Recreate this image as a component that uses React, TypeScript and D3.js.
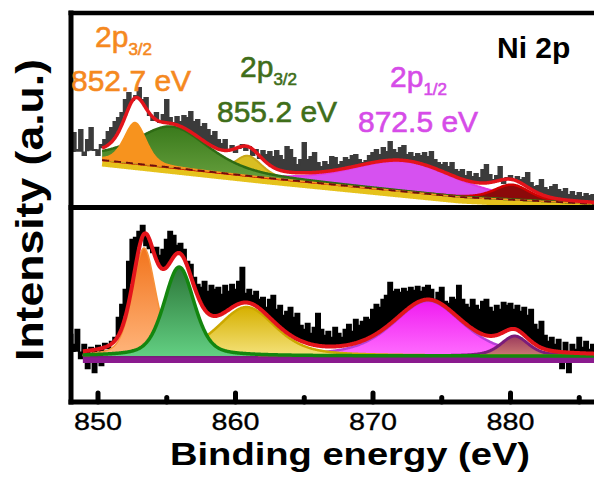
import * as d3 from "d3";

const W = 594;
const H = 487;
const FONT = "'Liberation Sans', Arial, Helvetica, sans-serif";

// raw scans, one value every 0.25 eV from 848 eV (arbitrary units)
const energyStart = 848;
const energyStep = 0.25;

const upperCounts = [
  62, 74, 57, 77, 52, 67, 79, 57, 52, 62, 67, 75, 79, 85, 89, 94,
  107, 114, 107, 111, 119, 107, 109, 92, 87, 94, 85, 92, 107, 89, 84, 90,
  85, 91, 89, 95, 85, 87, 80, 83, 77, 71, 75, 67, 63, 67, 57, 61,
  55, 59, 62, 57, 60, 52, 57, 49, 56, 52, 55, 50, 56, 51, 47, 60,
  57, 49, 42, 47, 64, 47, 50, 54, 44, 40, 45, 42, 50, 49, 42, 45,
  49, 47, 51, 52, 47, 44, 46, 51, 54, 57, 52, 59, 55, 65, 57, 54,
  59, 61, 52, 54, 50, 53, 51, 54, 50, 55, 47, 44, 42, 44, 40, 44,
  37, 35, 37, 31, 35, 30, 33, 29, 37, 42, 32, 27, 31, 40, 24, 29,
  31, 27, 30, 27, 29, 34, 24, 20, 21, 27, 19, 17, 20, 22, 17, 15,
  18, 12, 15, 11, 14, 10, 13, 11, 12, 11,
];

const lowerCounts = [
  67, 57, 72, 44, 57, 34, 54, 30, 56, 37, 58, 54, 60, 64, 84, 97,
  112, 140, 162, 164, 170, 176, 157, 154, 150, 154, 146, 152, 162, 170, 166, 156,
  158, 152, 140, 137, 124, 117, 114, 120, 110, 116, 112, 114, 107, 116, 110, 117,
  112, 120, 134, 108, 112, 106, 110, 102, 104, 94, 102, 106, 92, 96, 86, 90,
  94, 84, 88, 76, 72, 78, 68, 74, 88, 72, 66, 70, 64, 74, 68, 64,
  72, 77, 70, 82, 76, 80, 84, 82, 92, 97, 94, 102, 106, 119, 110, 112,
  109, 113, 110, 114, 111, 115, 110, 114, 116, 112, 102, 109, 114, 100, 98, 104,
  102, 116, 102, 97, 94, 102, 96, 92, 100, 102, 94, 90, 96, 92, 99, 96,
  98, 92, 96, 90, 94, 86, 92, 77, 72, 80, 66, 60, 64, 57, 62, 34,
  59, 30, 57, 52, 64, 54, 60, 52, 57, 52,
];

// fitted components (draw order): centre eV, height above background, FWHM eV, Lorentzian fraction
const upperCentre = [872.3, 880.1, 860.9, 855.4, 852.7];
const upperHeight = [30, 15, 20, 41, 41];
const upperFwhm = [9.0, 3.0, 2.4, 6.3, 1.9];
const upperEta = [0.3, 0.4, 0.4, 0.5, 0.4];

const lowerCentre = [874.0, 880.3, 860.8, 853.35, 855.9];
const lowerHeight = [55, 20, 49, 108, 89];
const lowerFwhm = [6.0, 2.4, 5.0, 2.0, 2.6];
const lowerEta = [0.5, 0.5, 0.5, 0.4, 0.4];

// background anchor points
const upperBgEnergy = [850.3, 862.4, 876.3, 886.3];
const upperBgLevel = [47, 29, 10, 3];
const lowerBgEnergy = [848.9, 888];
const lowerBgLevel = [46, 46];

const majorTicks = [850, 860, 870, 880];
const minorTicks = [855, 865, 875, 885];

const x = d3.scaleLinear().domain([848, 888]).range([70.5, 620.5]);
const yUpper = d3.scaleLinear().domain([0, 194]).range([207, 13]);
const yLower = d3.scaleLinear().domain([0, 195]).range([402, 207]);

function pseudoVoigt(e: number, c: number, h: number, w: number, eta: number) {
  const t = (e - c) / w;
  return h * (eta / (1 + 4 * t * t) + (1 - eta) * Math.exp(-4 * Math.LN2 * t * t));
}

type PanelProps = {
  counts: number[];
  y: d3.ScaleLinear<number, number>;
  centre: number[];
  height: number[];
  fwhm: number[];
  eta: number[];
  bgEnergy: number[];
  bgLevel: number[];
  fitFrom: number;
  fills: string[];
  strokes: string[];
  strokeWidths: number[];
  rawColor: string;
  rawWidth: number;
  clipId: string;
  lower: boolean;
};

function Panel(p: PanelProps) {
  const grid = d3.range(p.fitFrom, 888.01, 0.05);
  const bg = d3.scaleLinear().domain(p.bgEnergy).range(p.bgLevel);
  const model = (e: number) =>
    bg(e) + d3.sum(p.centre, (c, i) => pseudoVoigt(e, c, p.height[i], p.fwhm[i], p.eta[i]));
  const comps = p.centre.map((c, i) =>
    grid.map((e) => pseudoVoigt(e, c, p.height[i], p.fwhm[i], p.eta[i]))
  );
  const total = grid.map(model);
  const rawE = p.counts.map((_, i) => energyStart + i * energyStep);

  const area = d3
    .area<number>()
    .x((_, j) => x(grid[j]))
    .y0((_, j) => p.y(bg(grid[j])))
    .y1((v, j) => p.y(bg(grid[j]) + v));
  const top = d3
    .line<number>()
    .x((_, j) => x(grid[j]))
    .y((v, j) => p.y(bg(grid[j]) + v));
  const fitLine = d3
    .line<number>()
    .x((_, j) => x(grid[j]))
    .y((v) => p.y(v));
  const rawLine = d3
    .line<number>()
    .x((_, i) => x(rawE[i]))
    .y((v) => p.y(v))
    .curve(d3.curveStep);
  // dense noisy trace: shade between the model and each reading
  const rawBand = d3
    .area<number>()
    .x((_, i) => x(rawE[i]))
    .y0((_, i) => p.y(model(rawE[i])))
    .y1((v) => p.y(v))
    .curve(d3.curveStep);
  const bgLine = d3
    .line<number>()
    .x((e) => x(e))
    .y((e) => p.y(bg(e)));

  return (
    <g clipPath={`url(#${p.clipId})`}>
      <path d={rawBand(p.counts) ?? ""} fill={p.rawColor} />
      <path d={rawLine(p.counts) ?? ""} fill="none" stroke={p.rawColor} strokeWidth={p.rawWidth} />
      {p.lower ? (
        <path d={bgLine(grid) ?? ""} transform="translate(0,3.5)" fill="none" stroke="#8a1a8e" strokeWidth={7} />
      ) : (
        <path d={bgLine(grid) ?? ""} transform="translate(0,3.5)" fill="none" stroke="#e6c21c" strokeWidth={6} />
      )}
      {comps.map((cp, i) => (
        <g key={i}>
          <path d={area(cp) ?? ""} fill={p.fills[i]} />
          <path d={top(cp) ?? ""} fill="none" stroke={p.strokes[i]} strokeWidth={p.strokeWidths[i]} />
        </g>
      ))}
      {!p.lower && (
        <path d={bgLine(grid) ?? ""} fill="none" stroke="#6e0e0e" strokeWidth={1.8} strokeDasharray="7 5" />
      )}
      <path d={fitLine(total) ?? ""} fill="none" stroke="#e3141b" strokeWidth={p.lower ? 4 : 3.5} strokeLinejoin="round" />
    </g>
  );
}

function Grad({ id, top, bottom }: { id: string; top: string; bottom: string }) {
  return (
    <linearGradient id={id} x1="0" y1="0" x2="0" y2="1">
      <stop offset="0%" stopColor={top} />
      <stop offset="100%" stopColor={bottom} />
    </linearGradient>
  );
}

export default function App() {
  return (
    <svg
      width={W}
      height={H}
      viewBox={`0 0 ${W} ${H}`}
      style={{ position: "absolute", left: 0, top: 0, background: "#fff" }}
      fontFamily={FONT}
    >
      <defs>
        <clipPath id="clipUpper">
          <rect x={73} y={15} width={530} height={190} />
        </clipPath>
        <clipPath id="clipLower">
          <rect x={73} y={209.5} width={530} height={190.5} />
        </clipPath>
        <Grad id="gUpGreen" top="#3a7a1c" bottom="#7ab04c" />
        <Grad id="gLoMag" top="#f01cf0" bottom="#ff6cff" />
        <Grad id="gLoBrown" top="#9c3a5c" bottom="#cc7a74" />
        <Grad id="gLoYellow" top="#d6b000" bottom="#f4e27a" />
        <Grad id="gLoOrange" top="#f2741c" bottom="#ffb57c" />
        <Grad id="gLoGreen" top="#2c7638" bottom="#62cf82" />
      </defs>

      <Panel
        counts={upperCounts}
        y={yUpper}
        centre={upperCentre}
        height={upperHeight}
        fwhm={upperFwhm}
        eta={upperEta}
        bgEnergy={upperBgEnergy}
        bgLevel={upperBgLevel}
        fitFrom={850.3}
        fills={["#d651f0", "#8b0a0a", "#d9be22", "url(#gUpGreen)", "#f7931e"]}
        strokes={["#e03ae6", "#d00000", "#c9a81a", "#2e6b14", "#f7931e"]}
        strokeWidths={[2, 2.5, 2, 2.5, 1.5]}
        rawColor="#3b3b3b"
        rawWidth={2}
        clipId="clipUpper"
        lower={false}
      />
      <Panel
        counts={lowerCounts}
        y={yLower}
        centre={lowerCentre}
        height={lowerHeight}
        fwhm={lowerFwhm}
        eta={lowerEta}
        bgEnergy={lowerBgEnergy}
        bgLevel={lowerBgLevel}
        fitFrom={848.9}
        fills={["url(#gLoMag)", "url(#gLoBrown)", "url(#gLoYellow)", "url(#gLoOrange)", "url(#gLoGreen)"]}
        strokes={["#b640d8", "#7a1c7a", "#cca800", "#f7923a", "#13860f"]}
        strokeWidths={[2.5, 3, 2.5, 1.5, 3.5]}
        rawColor="#000"
        rawWidth={2.5}
        clipId="clipLower"
        lower={true}
      />

      {/* frame */}
      <g stroke="#000" fill="none">
        <line x1={71} y1={10.5} x2={71} y2={404.5} strokeWidth={5} />
        <line x1={68.5} y1={13} x2={W + 5} y2={13} strokeWidth={4.5} />
        <line x1={68.5} y1={207.5} x2={W + 5} y2={207.5} strokeWidth={5} />
        <line x1={68.5} y1={402} x2={W + 5} y2={402} strokeWidth={5} />
        {majorTicks.map((t) => (
          <line key={t} x1={x(t)} x2={x(t)} y1={402} y2={393} strokeWidth={5} strokeLinecap="round" />
        ))}
        {minorTicks.map((t) => (
          <line key={t} x1={x(t)} x2={x(t)} y1={402} y2={397.5} strokeWidth={5} strokeLinecap="round" />
        ))}
      </g>

      {majorTicks.map((t) => (
        <text key={t} x={x(t)} y={430} textAnchor="middle" fontSize={24} textLength={48} lengthAdjust="spacingAndGlyphs" fill="#000" stroke="#000" strokeWidth={0.3}>
          {t}
        </text>
      ))}
      <text x={350} y={465} textAnchor="middle" fontSize={32} fontWeight="bold" textLength={360} lengthAdjust="spacingAndGlyphs" fill="#000">
        Binding energy (eV)
      </text>
      <text
        transform="translate(43,210) rotate(-90)"
        textAnchor="middle"
        fontSize={39}
        fontWeight="bold"
        textLength={302}
        lengthAdjust="spacingAndGlyphs"
        fill="#000"
      >
        Intensity (a.u.)
      </text>

      {/* peak annotations */}
      <g strokeWidth={0.6} fontSize={30}>
        <text x={95} y={47} fill="#f5891f" stroke="#f5891f">
          2p<tspan fontSize={17} dy={8}>3/2</tspan>
        </text>
        <text x={71} y={91} fill="#f5891f" stroke="#f5891f">852.7 eV</text>
        <text x={240} y={77} fill="#3f6e1a" stroke="#3f6e1a">
          2p<tspan fontSize={17} dy={8}>3/2</tspan>
        </text>
        <text x={217} y={122} fill="#3f6e1a" stroke="#3f6e1a">855.2 eV</text>
        <text x={390} y={87} fill="#d64ce8" stroke="#d64ce8">
          2p<tspan fontSize={17} dy={8}>1/2</tspan>
        </text>
        <text x={358} y={132} fill="#d64ce8" stroke="#d64ce8">872.5 eV</text>
      </g>
      <text x={497} y={58} fontSize={30} fontWeight="bold" fill="#000">Ni 2p</text>
    </svg>
  );
}
